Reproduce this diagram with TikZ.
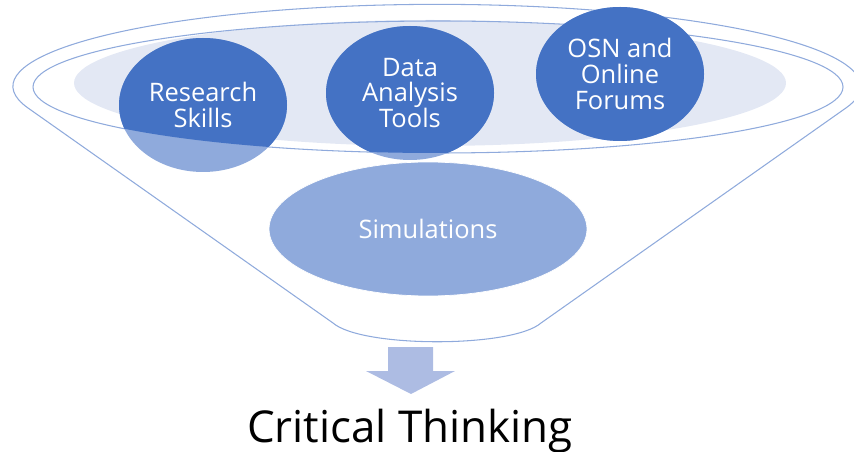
\documentclass[tikz,border=0pt]{standalone}
\usepackage{fontspec}
\setmainfont{Open Sans}
\usetikzlibrary{shapes.geometric,backgrounds}

\definecolor{rimblue}{RGB}{143,170,220}
\definecolor{darkblue}{RGB}{68,114,196}
\definecolor{lightblue}{RGB}{143,170,220}
\definecolor{mistblue}{RGB}{227,232,244}
\definecolor{arrowblue}{RGB}{173,188,227}

\tikzset{
  >={stealth},
  bubble/.style={ellipse, minimum width=3.36cm, minimum height=2.68cm, inner sep=0pt,
    text=white, align=center, font=\fontsize{14.5}{14.7}\selectfont},
  rim/.style={rimblue, line width=0.6pt}
}

\begin{document}
\begin{tikzpicture}[x=0.02cm, y=-0.02cm]
\useasboundingbox (0,0) rectangle (854,452);

% 三个输入
\node[bubble] (research) at (203,105) {Research\\Skills};
\node[bubble] (analysis) at (410,93) {Data\\Analysis\\Tools};
\node[bubble] (forums) at (620,74) {OSN and\\Online\\Forums};

\begin{scope}[on background layer]
% 浅色椭圆
\fill[mistblue] (430,83) ellipse [x radius=356, y radius=63];

% 漏斗外轮廓
\draw[rim] (333,323) -- (28,108) arc (164.7:375.3:424 and 82)
    -- (541,323) .. controls (512,348) and (362,348) .. (333,323) -- cycle;

% 内圈
\draw[rim] (438,87) ellipse [x radius=405, y radius=66];

% 圆（内圈以下为浅色）
\foreach \n in {research,analysis,forums}
    \fill[lightblue] (\n.center) ellipse [x radius=84, y radius=67];
\begin{scope}
\clip (33,87) arc (180:0:405 and 66) -- (843,-20) -- (33,-20) -- cycle;
\foreach \n in {research,analysis,forums}
    \fill[darkblue] (\n.center) ellipse [x radius=84, y radius=67];
\end{scope}
\end{scope}

% 中间
\node[bubble, minimum width=6.36cm, fill=lightblue, draw=white, line width=0.4pt]
    (sims) at (428,229) {Simulations};

% 向下箭头
\fill[arrowblue] (388,347) -- (433,347) -- (433,371) -- (455,371) -- (411,394)
    -- (366,371) -- (388,371) -- cycle;

% 输出
\node[anchor=base, font=\fontsize{25}{28}\selectfont] (result) at (410,442) {Critical Thinking};

\end{tikzpicture}
\end{document}
